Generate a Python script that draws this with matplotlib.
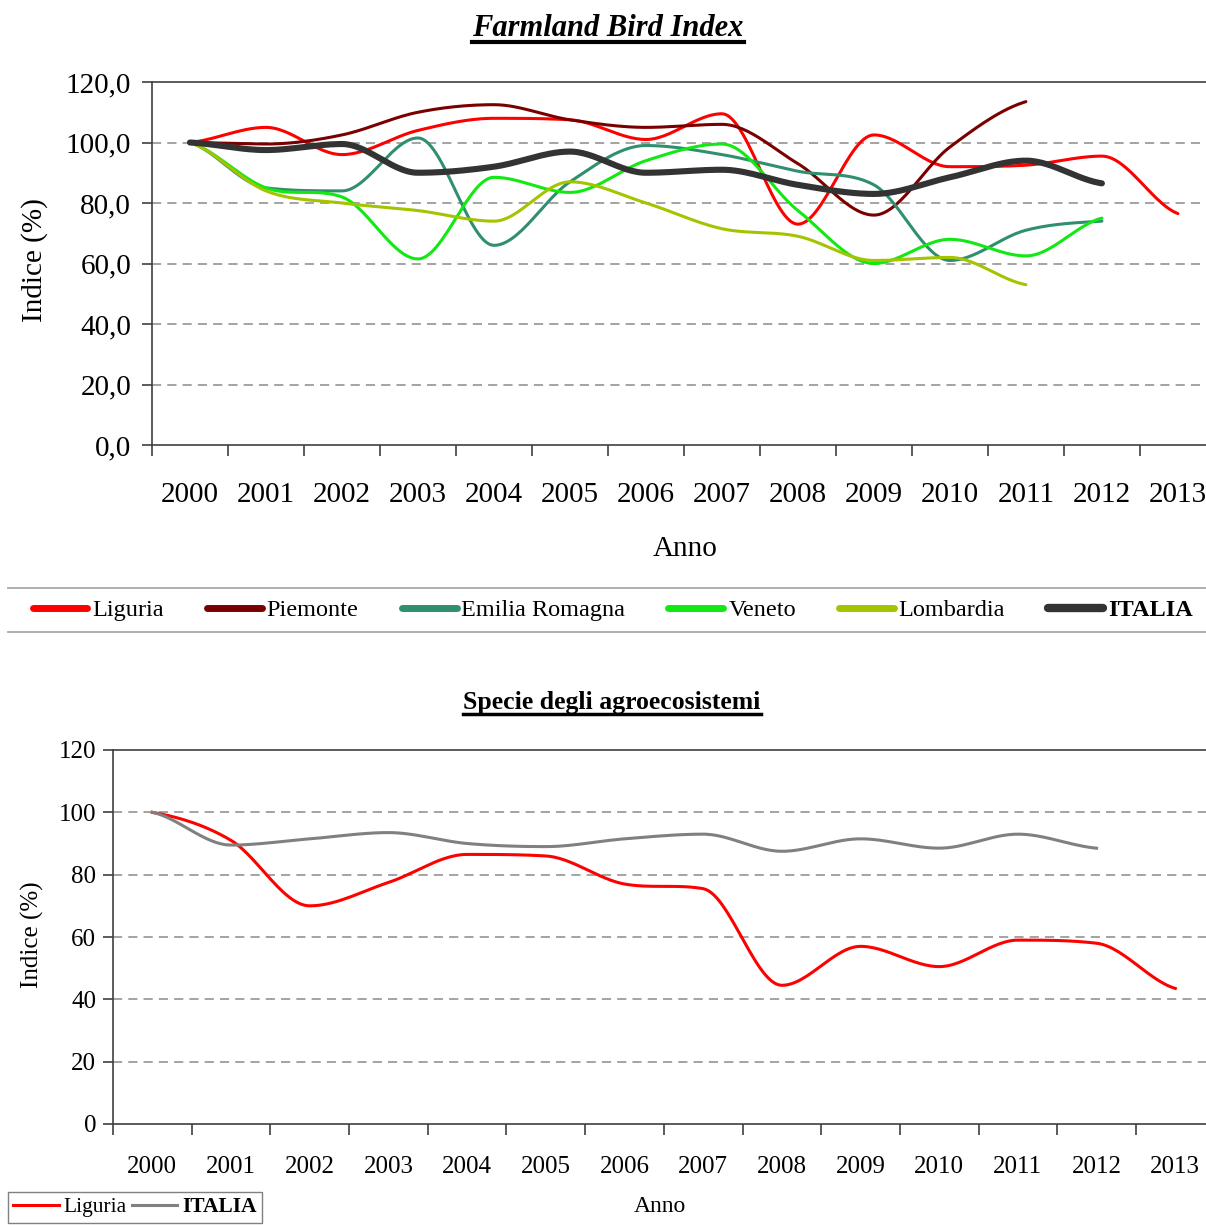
import numpy as np
import matplotlib
matplotlib.use("Agg")
import matplotlib.pyplot as plt
from matplotlib.lines import Line2D

plt.rcParams["font.family"] = ["Liberation Serif", "DejaVu Serif"]

# ---------------------------------------------------------------------------
# Dati
# ---------------------------------------------------------------------------

years = ["2000", "2001", "2002", "2003", "2004", "2005", "2006",
         "2007", "2008", "2009", "2010", "2011", "2012", "2013"]

# Farmland Bird Index (%)
liguria_fbi = [100, 105, 96, 104, 108, 107.5, 101, 109.5, 73, 102.5, 92, 92.5, 95.5, 76.5]
piemonte_fbi = [100, 99.5, 102.5, 110, 112.5, 107.5, 105, 106, 93, 76, 98.5, 113.5]
emilia_fbi = [100, 85, 84, 101.5, 66, 87, 99, 96, 90.5, 86, 61, 71, 74]
veneto_fbi = [100, 85, 82, 61.5, 88.5, 83.5, 94, 99.5, 77.5, 60, 68, 62.5, 75]
lombardia_fbi = [100, 84, 80, 77.5, 74, 87, 80, 71.5, 69, 61, 62, 53]
italia_fbi = [100, 97.5, 99.5, 90, 92, 97, 90, 91, 86, 83, 88.5, 94, 86.5]

# Specie degli agroecosistemi (%)
liguria_agro = [100, 91, 70, 77.5, 86.5, 86, 77, 75.5, 44.5, 57, 50.5, 59, 58, 43.5]
italia_agro = [100, 89.5, 91.5, 93.5, 90, 89, 91.5, 93, 87.5, 91.5, 88.5, 93, 88.5]

fbi_ticks = [0, 20, 40, 60, 80, 100, 120]
fbi_tick_labels = ["0,0", "20,0", "40,0", "60,0", "80,0", "100,0", "120,0"]
agro_ticks = [0, 20, 40, 60, 80, 100, 120]


# ---------------------------------------------------------------------------
# Linea "smussata" (Hermite tra i punti, solo per il disegno)
# ---------------------------------------------------------------------------

def smooth_line(values, steps=30):
    y = np.asarray(values, dtype=float)
    n = len(y)
    d = np.diff(y)
    m = np.zeros(n)
    for i in range(n):
        if i == 0:
            m[i] = d[0] / 2.0
        elif i == n - 1:
            m[i] = d[-1] / 2.0
        else:
            if d[i - 1] * d[i] <= 0:
                m[i] = 0.0
            else:
                m[i] = (d[i - 1] + d[i]) / 2.0
                lim = 3.0 * min(abs(d[i - 1]), abs(d[i]))
                m[i] = np.sign(m[i]) * min(abs(m[i]), lim)
    t = np.linspace(0.0, 1.0, steps)
    h00 = 2 * t ** 3 - 3 * t ** 2 + 1
    h10 = t ** 3 - 2 * t ** 2 + t
    h01 = -2 * t ** 3 + 3 * t ** 2
    h11 = t ** 3 - t ** 2
    xs, ys = [], []
    for i in range(n - 1):
        seg = h00 * y[i] + h10 * m[i] + h01 * y[i + 1] + h11 * m[i + 1]
        xx = i + t
        if i > 0:
            seg, xx = seg[1:], xx[1:]
        xs.append(xx)
        ys.append(seg)
    return np.concatenate(xs), np.concatenate(ys)


# ---------------------------------------------------------------------------
# Figura
# ---------------------------------------------------------------------------

W, H = 1206, 1225
fig = plt.figure(figsize=(W / 100, H / 100), dpi=100)
fig.patch.set_facecolor("white")

ax1 = fig.add_axes([152 / W, 1 - 445 / H, (W - 152) / W, (445 - 82) / H])
ax2 = fig.add_axes([113 / W, 1 - 1124 / H, (W - 113) / W, (1124 - 750) / H])

grid_kw = dict(color="#8a8a8a", linestyle=(0, (6, 4)), linewidth=1.1)
spine_color = "#404040"


def style_axes(ax, right_lim, ytick_vals, ytick_labels, fs, xpad, ylen, ypad):
    ax.set_xlim(-0.5, right_lim)
    ax.set_ylim(0, 120)
    ax.set_xticks(range(len(years)), years)
    ax.set_xticks(np.arange(-0.5, len(years) - 0.5, 1.0), minor=True)
    ax.tick_params(axis="x", which="major", length=0, pad=xpad, labelsize=fs)
    ax.tick_params(axis="x", which="minor", length=8, width=1.2,
                   direction="out", color=spine_color)
    ax.set_yticks(ytick_vals, ytick_labels)
    ax.tick_params(axis="y", length=ylen, width=1.2, direction="out",
                   pad=ypad, labelsize=fs, color=spine_color)
    for v in ytick_vals[1:-1]:
        ax.axhline(v, zorder=0, **grid_kw)
    for side in ("left", "bottom", "top"):
        ax.spines[side].set_color(spine_color)
        ax.spines[side].set_linewidth(1.2)
    ax.spines["right"].set_visible(False)


style_axes(ax1, 13.37, fbi_ticks, fbi_tick_labels, 21, 27, 7, 8)
style_axes(ax2, 13.39, agro_ticks, [str(v) for v in agro_ticks], 18, 23, 7, 5)

# --- Farmland Bird Index ---
series_fbi = [
    ("Liguria", liguria_fbi, "#ff0000", 2.2),
    ("Piemonte", piemonte_fbi, "#7a0000", 2.2),
    ("Emilia Romagna", emilia_fbi, "#2f8f6f", 2.2),
    ("Veneto", veneto_fbi, "#12e812", 2.2),
    ("Lombardia", lombardia_fbi, "#a4c400", 2.2),
    ("ITALIA", italia_fbi, "#333333", 4.4),
]
for name, vals, col, lw in series_fbi:
    xs, ys = smooth_line(vals)
    ax1.plot(xs, ys, color=col, lw=lw, label=name, solid_capstyle="round")

# --- Specie degli agroecosistemi ---
for name, vals, col in [("Liguria", liguria_agro, "#ff0000"),
                        ("ITALIA", italia_agro, "#808080")]:
    xs, ys = smooth_line(vals)
    ax2.plot(xs, ys, color=col, lw=2.2, label=name)

# ---------------------------------------------------------------------------
# Testi
# ---------------------------------------------------------------------------

t1 = fig.text(0.504, 1 - 28 / H, "Farmland Bird Index", ha="center", va="center",
              fontsize=22, fontweight="bold", fontstyle="italic")
t2 = fig.text(612 / W, 1 - 703 / H, "Specie degli agroecosistemi", ha="center",
              va="center", fontsize=18.5, fontweight="bold")

fig.text(35 / W, 1 - 260 / H, "Indice (%)", rotation=90, ha="center", va="center",
         fontsize=21)
fig.text(32 / W, 1 - 935 / H, "Indice (%)", rotation=90, ha="center", va="center",
         fontsize=18)
fig.text(685 / W, 1 - 549 / H, "Anno", ha="center", va="center", fontsize=21)
fig.text(660 / W, 1 - 1207 / H, "Anno", ha="center", va="center", fontsize=17)

# legenda superiore
leg1 = fig.legend(*ax1.get_legend_handles_labels(), loc="center",
                  bbox_to_anchor=(0.508, 1 - 610 / H), ncol=6, frameon=False,
                  fontsize=17.5, handlelength=2.26, handletextpad=0.2,
                  columnspacing=1.77)
for line in leg1.get_lines():
    line.set_linewidth(5 if line.get_label() != "ITALIA" else 6)
leg1.get_texts()[-1].set_fontweight("bold")
for yy in (588, 632):
    fig.add_artist(Line2D([8 / W, 1.0], [1 - yy / H, 1 - yy / H],
                          color="#a8a8a8", lw=1.3))

# legenda inferiore
leg2 = ax2.legend(loc="upper left", bbox_to_anchor=(8 / W, 1 - 1192 / H),
                  bbox_transform=fig.transFigure, ncol=2, fontsize=15.5,
                  handlelength=2.1, handletextpad=0.22, columnspacing=0.27,
                  borderaxespad=0, borderpad=0.25, fancybox=False,
                  framealpha=1, edgecolor="#808080")
leg2.get_frame().set_linewidth(1.0)
leg2.get_texts()[-1].set_fontweight("bold")

# sottolineature dei titoli
fig.canvas.draw()
for txt, y_px, lw in ((t1, 42, 3.0), (t2, 714, 2.5)):
    bb = txt.get_window_extent()
    fig.add_artist(Line2D([bb.x0 / W, bb.x1 / W], [1 - y_px / H, 1 - y_px / H],
                          color="black", lw=lw))

fig.savefig("out.png", dpi=100)
